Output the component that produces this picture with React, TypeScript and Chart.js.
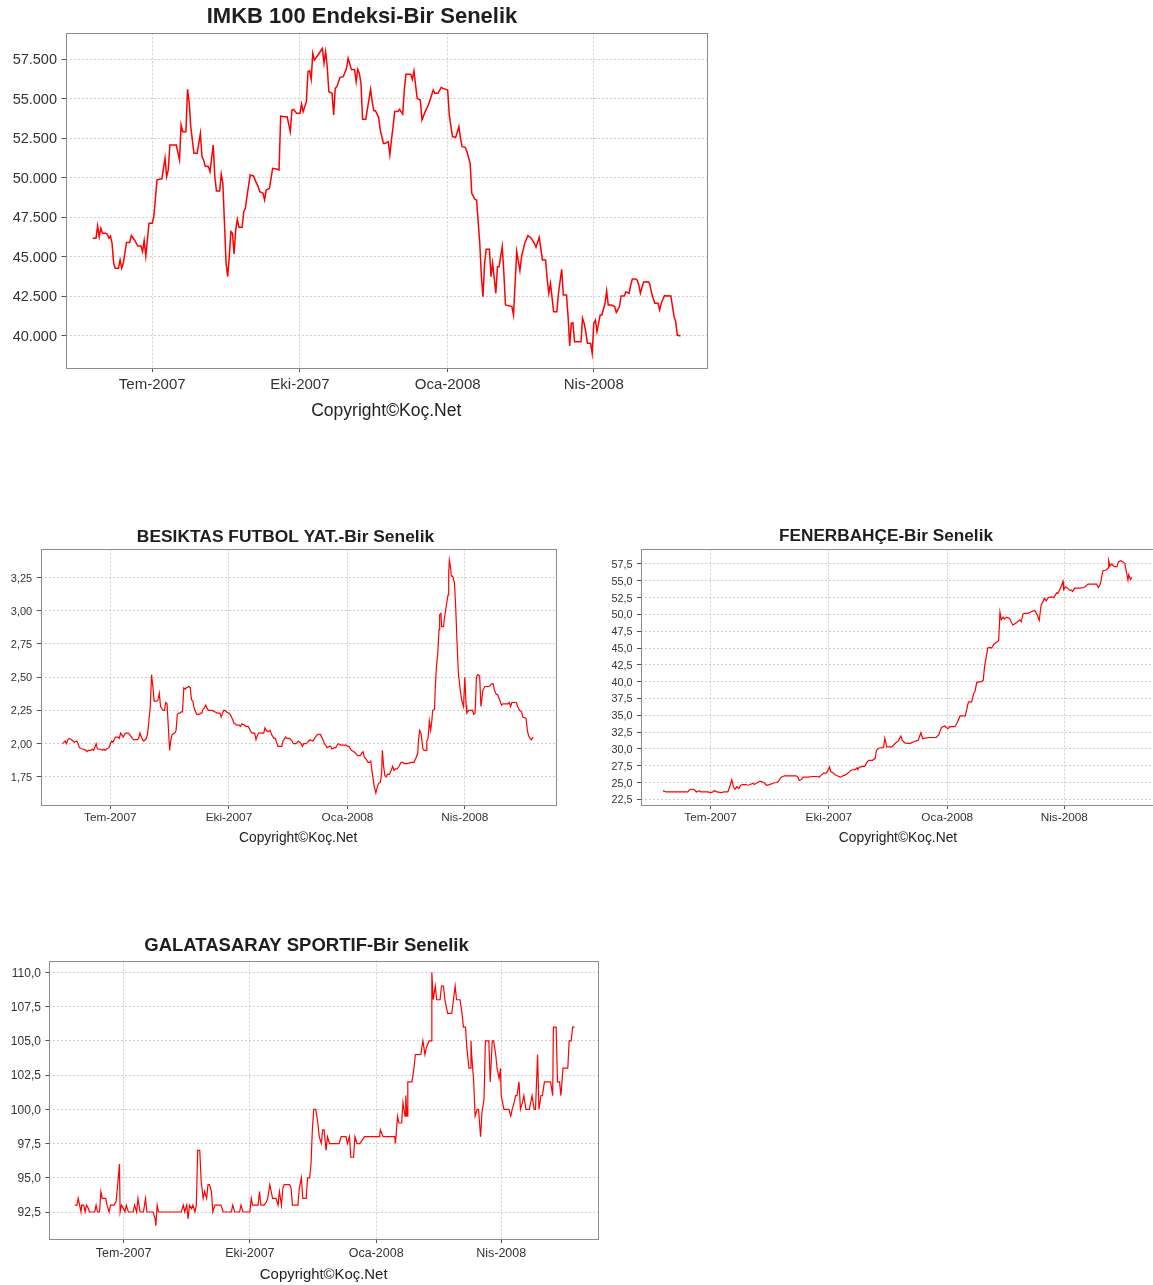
import React, { useEffect, useRef } from "react";
import { Chart, registerables } from "chart.js";

Chart.register(...registerables);

// Day offsets are counted from 1 July 2007 (day 0 = Tem-2007).
const monthTickDays = [0, 92, 184, 275];
const monthTickLabels = ["Tem-2007", "Eki-2007", "Oca-2008", "Nis-2008"];
const dayMin = -54;
const dayMax = 345.5;
const copyrightText = "Copyright©Koç.Net";

// IMKB 100 index, one year
const imkbDays = [
  -37, -35, -34, -33, -32, -31, -29, -28, -27, -26, -25, -24, -23, -21, -20, -19, -18, -16, -14, -13,
  -11, -9, -7, -6, -5, -4, -2, 0, 1, 3, 5, 6, 8, 9, 10, 11, 15, 17, 18, 19,
  21, 22, 23, 24, 26, 28, 30, 31, 32, 33, 35, 36, 38, 39, 40, 42, 43, 44, 45, 46,
  47, 48, 49, 50, 51, 52, 53, 54, 56, 57, 58, 59, 61, 63, 65, 66, 67, 69, 70, 71,
  73, 75, 78, 79, 80, 82, 84, 86, 87, 88, 90, 92, 93, 94, 95, 96, 97, 98, 99, 100,
  101, 104, 106, 107, 108, 109, 110, 112, 113, 114, 115, 117, 119, 121, 122, 123, 124, 126, 127, 128,
  129, 130, 131, 133, 136, 137, 138, 139, 141, 142, 144, 145, 147, 148, 149, 150, 151, 153, 154, 156,
  157, 158, 161, 162, 163, 165, 167, 168, 170, 172, 175, 176, 178, 180, 181, 184, 185, 187, 189, 191,
  192, 193, 195, 196, 198, 199, 201, 202, 204, 205, 206, 207, 208, 210, 211, 212, 214, 215, 216, 218,
  219, 220, 224, 225, 227, 229, 230, 232, 234, 236, 238, 239, 241, 243, 245, 246, 247, 248, 250, 252,
  253, 255, 256, 258, 259, 260, 261, 262, 263, 267, 268, 269, 270, 271, 273, 274, 275, 276, 277, 279,
  280, 282, 283, 284, 286, 288, 289, 291, 292, 294, 295, 297, 298, 299, 301, 302, 303, 304, 306, 309,
  310, 311, 313, 315, 316, 317, 319, 323, 325, 326, 327, 329,
];
const imkbValues = [
  46180, 46180, 46960, 46280, 46810, 46490, 46490, 46450, 46180, 46320, 45860, 44600, 44280, 44280, 44810, 44280, 44600, 45920, 45920, 46350,
  46070, 45690, 45690, 45330, 46030, 45060, 47130, 47130, 47550, 49870, 49930, 49930, 51240, 50080, 50500, 52080, 52080, 51130, 53340, 52920,
  52920, 55600, 54820, 53240, 51550, 51550, 52820, 51340, 51130, 50750, 50710, 50390, 52080, 50080, 49170, 49170, 50240, 49650, 47130, 44600,
  43750, 45020, 46600, 46490, 45190, 46700, 47380, 46870, 46870, 47860, 48070, 48810, 50180, 50120, 49650, 49440, 49130, 49020, 48600, 49230,
  49340, 50600, 50540, 50500, 53910, 53870, 53870, 52920, 54290, 54330, 54080, 54080, 54670, 54190, 54500, 54820, 56720, 56780, 56230, 57880,
  57450, 57880, 58190, 57240, 57980, 57030, 55450, 55350, 53980, 55660, 55770, 56360, 56400, 56930, 57560, 57240, 56860, 56860, 56080, 56860,
  56610, 55980, 53700, 53700, 55600, 54820, 54250, 54250, 53830, 53030, 52180, 52180, 52290, 51450, 52400, 53240, 54190, 54190, 54330, 54040,
  55560, 56550, 56550, 56230, 56760, 55030, 54920, 53660, 54190, 54610, 55560, 55350, 55350, 55730, 55660, 55560, 53980, 52610, 52560, 53240,
  52500, 51970, 51930, 51660, 50920, 49020, 48640, 48600, 45860, 43750, 42490, 44600, 45480, 45480, 43750, 44600, 42700, 44380, 44380, 45650,
  43960, 41960, 41860, 41330, 45330, 44130, 45020, 45860, 46350, 46180, 45860, 45610, 46240, 44810, 44810, 43540, 42700, 43330, 41540, 41540,
  42700, 44220, 42590, 42590, 41220, 39370, 40800, 40840, 39640, 39640, 41120, 40800, 40270, 39540, 39540, 38900, 40800, 41010, 40270, 41330,
  41330, 42070, 42850, 41960, 41960, 41860, 41480, 41860, 42530, 42530, 42800, 42700, 43230, 43600, 43600, 43540, 43230, 42700, 43410, 43430,
  43230, 42700, 42070, 42070, 41640, 42070, 42550, 42530, 41220, 40910, 40060, 40000,
];
const imkbYTicks = [40000, 42500, 45000, 47500, 50000, 52500, 55000, 57500];

// Beşiktaş Futbol Yatırımları
const bjkDays = [
  -37, -35, -34, -33, -32, -30, -29, -28, -26, -25, -24, -22, -21, -19, -18, -17, -15, -14, -13, -11,
  -10, -9, -8, -6, -5, -4, -3, -1, 0, 1, 2, 3, 4, 6, 7, 8, 10, 11, 12, 13,
  14, 15, 17, 18, 19, 21, 22, 23, 25, 26, 27, 28, 29, 30, 31, 32, 33, 34, 35, 36,
  37, 38, 39, 41, 42, 43, 44, 45, 46, 47, 48, 50, 51, 52, 53, 54, 55, 56, 57, 58,
  59, 61, 62, 63, 64, 65, 67, 69, 70, 71, 72, 73, 74, 75, 76, 79, 81, 83, 85, 86,
  87, 88, 89, 90, 92, 93, 95, 96, 97, 98, 100, 101, 102, 104, 105, 106, 107, 109, 110, 112,
  113, 114, 115, 118, 119, 120, 121, 122, 124, 125, 127, 128, 129, 130, 132, 133, 134, 136, 137, 138,
  139, 141, 142, 144, 145, 146, 148, 149, 150, 152, 153, 154, 155, 157, 158, 159, 161, 162, 163, 165,
  166, 167, 168, 170, 171, 172, 174, 175, 176, 177, 179, 180, 181, 183, 184, 185, 187, 189, 190, 191,
  192, 194, 195, 196, 197, 198, 200, 201, 202, 203.5, 204.5, 206, 207, 208, 209.5, 210.5, 211, 212, 213, 214,
  215, 216.5, 217.5, 219, 220, 221, 222.5, 224, 225.5, 227, 228, 229.5, 230.5, 233.5, 235.5, 237, 238.5, 239, 240, 241,
  242.5, 243.5, 245, 245.5, 246.5, 247.5, 248.5, 249.5, 250, 251.5, 252, 253, 254, 255, 255.5, 256.5, 257, 258.5, 259, 260.5,
  262, 262.5, 263, 264, 264.5, 265.5, 267, 268, 269, 270, 271.5, 272.5, 274, 275, 276, 276.5, 278, 280, 281, 282,
  283, 284, 285, 286.5, 287.5, 289, 290.5, 293, 294, 295.5, 297, 298, 299.5, 300.5, 302, 303.5, 304.5, 307, 308.5, 309.5,
  310.5, 311.5, 315, 316, 317.5, 319, 320, 322.5, 323.5, 324.5, 325.5, 326.5, 328,
];
const bjkValues = [
  2.0, 2.02, 2.0, 2.03, 2.04, 2.03, 2.02, 2.01, 2.02, 2.0, 1.97, 1.96, 1.96, 1.95, 1.94, 1.95, 1.95, 1.96, 1.95, 2.0,
  1.96, 1.96, 1.96, 1.95, 1.96, 1.95, 1.96, 1.97, 2.0, 2.02, 2.01, 2.03, 2.05, 2.05, 2.04, 2.08, 2.05, 2.07, 2.08, 2.08,
  2.08, 2.07, 2.04, 2.03, 2.03, 2.03, 2.04, 2.08, 2.03, 2.02, 2.03, 2.04, 2.08, 2.18, 2.28, 2.52, 2.43, 2.32, 2.32, 2.32,
  2.33, 2.38, 2.28, 2.25, 2.25, 2.31, 2.3, 2.13, 1.95, 2.03, 2.07, 2.08, 2.1, 2.22, 2.23, 2.23, 2.24, 2.24, 2.42, 2.41,
  2.42, 2.43, 2.42, 2.33, 2.32, 2.27, 2.22, 2.22, 2.23, 2.23, 2.26, 2.27, 2.29, 2.27, 2.25, 2.25, 2.24, 2.23, 2.23, 2.2,
  2.23, 2.25, 2.25, 2.24, 2.23, 2.22, 2.18, 2.15, 2.15, 2.14, 2.14, 2.13, 2.15, 2.14, 2.13, 2.13, 2.13, 2.09, 2.08, 2.08,
  2.03, 2.06, 2.08, 2.08, 2.08, 2.12, 2.1, 2.09, 2.1, 2.07, 2.04, 2.04, 2.01, 1.98, 1.98, 1.98, 2.02, 2.05, 2.04, 2.04,
  2.04, 2.02, 2.0, 2.0, 2.01, 2.02, 2.0, 1.98, 2.0, 2.0, 2.01, 2.02, 2.03, 2.02, 2.03, 2.05, 2.07, 2.07, 2.07, 2.03,
  2.0, 1.99, 1.97, 1.98, 1.98, 1.96, 1.97, 1.97, 1.99, 2.0, 1.99, 1.99, 1.99, 1.99, 1.98, 1.98, 1.95, 1.94, 1.93, 1.92,
  1.91, 1.91, 1.93, 1.94, 1.9, 1.89, 1.86, 1.86, 1.87, 1.76, 1.69, 1.63, 1.67, 1.7, 1.71, 1.78, 1.95, 1.83, 1.76, 1.75,
  1.77, 1.77, 1.79, 1.83, 1.8, 1.81, 1.81, 1.83, 1.86, 1.86, 1.85, 1.85, 1.85, 1.86, 1.86, 1.89, 1.93, 2.02, 2.1, 2.08,
  1.96, 1.95, 1.95, 2.02, 2.04, 2.17, 2.1, 2.18, 2.25, 2.26, 2.4, 2.58, 2.68, 2.86, 2.97, 2.98, 2.88, 2.88, 2.93, 3.03,
  3.12, 3.29, 3.38, 3.32, 3.26, 3.26, 3.21, 3.01, 2.75, 2.53, 2.4, 2.33, 2.28, 2.5, 2.29, 2.23, 2.25, 2.25, 2.25, 2.22,
  2.23, 2.5, 2.52, 2.51, 2.28, 2.4, 2.43, 2.43, 2.43, 2.45, 2.45, 2.4, 2.37, 2.37, 2.33, 2.29, 2.3, 2.3, 2.3, 2.31,
  2.28, 2.31, 2.31, 2.28, 2.25, 2.24, 2.2, 2.19, 2.1, 2.06, 2.04, 2.03, 2.05,
];
const bjkYTicks = [1.75, 2.0, 2.25, 2.5, 2.75, 3.0, 3.25];

// Fenerbahçe
const fbDays = [
  -37, -34.5, -33, -17.5, -16.5, -15, -13, -11, -8.5, -7.5, -4.5, -2, 0, 2, 3, 5, 8.5, 10.5, 13.5, 15,
  16.5, 18, 19, 20.5, 22, 23.5, 25, 27.5, 29, 31, 33, 34, 36.5, 38.5, 40, 41.5, 43.5, 46, 48.5, 51,
  52.5, 55, 57.5, 61.5, 66.5, 68, 69, 70.5, 72, 75.5, 79.5, 83.5, 84.5, 86, 88, 90, 91, 92.5, 93.5, 95,
  96.5, 98.5, 101, 103, 104.5, 107, 109, 110.5, 112.5, 114, 114.5, 116, 118.5, 120, 121.5, 123, 126, 128, 129, 130.5,
  134.5, 135.5, 137, 141, 143.5, 146, 148, 149, 151, 155, 158.5, 160, 161.5, 163.5, 165, 166.5, 170.5, 175.5, 177.5, 179.5,
  182, 184.5, 186, 190, 192, 194, 198, 200.5, 203, 204.5, 205.5, 207, 210.5, 212, 213, 215.5, 217, 218.5, 220.5, 222.5,
  224, 225, 226, 227.5, 228.5, 230, 232.5, 235, 238, 240.5, 241.5, 243, 247, 249.5, 252, 254, 255.5, 257, 258.5, 259.5,
  261, 262.5, 265, 267, 269, 270, 271.5, 272.5, 274, 274.5, 276, 277.5, 279, 280.5, 281.5, 283, 287, 290.5, 293.5, 296,
  300, 301.5, 303, 305, 307.5, 309, 309.5, 310.5, 312, 314, 316, 317, 319, 320.5, 322, 323, 324.5, 325, 326.5, 327.5,
];
const fbValues = [
  23.8, 23.6, 23.6, 23.6, 23.9, 24.0, 24.0, 23.6, 23.8, 23.6, 23.6, 23.6, 23.5, 23.6, 23.8, 23.6, 23.5, 23.6, 23.6, 24.4,
  25.4, 24.3, 24.0, 24.4, 24.1, 24.6, 24.7, 24.7, 24.6, 24.7, 24.9, 24.7, 25.0, 25.2, 25.1, 25.0, 24.6, 24.7, 24.9, 25.0,
  25.1, 25.8, 26.0, 26.0, 26.0, 25.8, 25.3, 25.4, 25.8, 25.8, 25.9, 25.9, 25.8, 26.1, 26.4, 26.4, 26.7, 27.3, 26.6, 26.5,
  26.2, 26.0, 25.8, 26.0, 26.1, 26.4, 26.8, 26.9, 26.9, 27.2, 27.0, 27.3, 27.4, 27.4, 28.0, 28.3, 28.3, 28.6, 29.8, 30.1,
  30.2, 31.6, 30.3, 30.3, 30.8, 31.2, 31.9, 31.3, 30.9, 30.8, 31.1, 31.2, 31.3, 32.4, 31.5, 31.6, 31.7, 31.7, 32.1, 33.2,
  33.4, 33.0, 33.3, 33.3, 34.0, 34.9, 34.9, 37.0, 37.0, 38.2, 38.5, 39.9, 40.0, 40.2, 42.2, 45.0, 45.1, 45.0, 45.6, 45.9,
  46.1, 50.3, 49.2, 49.6, 49.3, 49.6, 49.4, 48.4, 48.8, 49.2, 48.9, 50.1, 50.2, 50.4, 50.6, 49.9, 49.1, 51.4, 51.9, 52.4,
  52.0, 52.5, 52.6, 52.5, 53.2, 53.1, 53.7, 54.1, 54.9, 53.7, 54.1, 53.9, 53.6, 53.6, 53.4, 53.9, 53.9, 54.0, 54.5, 54.5,
  54.5, 54.0, 54.5, 56.5, 56.6, 56.9, 58.0, 57.2, 57.5, 57.1, 57.1, 57.8, 58.0, 57.8, 57.6, 56.6, 55.1, 55.9, 55.2, 55.5,
];
const fbYTicks = [22.5, 25, 27.5, 30, 32.5, 35, 37.5, 40, 42.5, 45, 47.5, 50, 52.5, 55, 57.5];

// Galatasaray Sportif
const gsDays = [
  -35.5, -34, -33, -32, -31, -30.5, -29, -28, -27, -25.5, -25, -21, -20, -19, -17.5, -16.5, -15.5, -14.5, -13, -12,
  -10.5, -9.5, -7, -5.5, -4.5, -3, -2.5, -1.5, 0, 1, 2, 3.5, 7, 8, 9.5, 10.5, 12, 14.5, 16, 17,
  21.5, 23, 23.5, 24.5, 25.5, 42, 43.5, 44.5, 46, 47, 48, 49.5, 50.5, 52, 53, 54, 55.5, 56.5, 58, 59,
  60.5, 61.5, 62.5, 64, 65, 66.5, 71, 72.5, 78.5, 79.5, 81, 84.5, 85.5, 87, 92, 93, 94, 98, 99, 100,
  102.5, 104, 105, 106.5, 107.5, 108.5, 111, 112.5, 113.5, 115, 116, 117, 121, 122, 123, 127, 128, 129.5, 130.5, 133,
  134, 135.5, 136.5, 137.5, 138.5, 140, 141.5, 142.5, 144, 145, 146, 147.5, 148.5, 150, 157, 158.5, 162, 163, 164.5, 165.5,
  167.5, 168.5, 170, 172, 175.5, 186.5, 187, 189, 197.5, 198, 199.5, 200.5, 202.5, 203.5, 205, 205.5, 206.5, 207, 210, 211.5,
  212.5, 216.5, 218, 219.5, 220.5, 222.5, 224, 224.5, 225.5, 227, 228, 230.5, 231.5, 233, 234, 236, 239, 241.5, 242.5, 245,
  246.5, 247.5, 249, 250, 251.5, 252.5, 253, 253.5, 255, 256, 257.5, 258.5, 260, 261, 262.5, 263.5, 266, 267, 268.5, 269.5,
  271, 272, 273.5, 274.5, 275, 277, 278, 280.5, 282, 283, 284.5, 285.5, 286.5, 288, 289, 290.5, 291.5, 293, 295.5, 296.5,
  297.5, 299, 300, 301.5, 302.5, 304, 305, 306.5, 311, 312.5, 313, 315, 316, 317.5, 318.5, 320, 322, 323.5, 324.5, 326,
  327, 328.5,
];
const gsValues = [
  93.0, 93.0, 93.5, 93.0, 92.5, 93.0, 93.0, 92.5, 93.0, 92.75, 92.5, 92.5, 93.0, 92.5, 92.5, 94.0, 93.5, 93.5, 93.5, 93.0,
  92.5, 93.0, 93.0, 93.25, 94.25, 96.0, 92.5, 93.0, 92.75, 92.5, 93.0, 92.5, 92.5, 93.0, 92.5, 93.5, 92.5, 92.5, 93.5, 92.5,
  92.5, 92.0, 91.5, 93.0, 92.5, 92.5, 93.0, 92.5, 93.0, 92.0, 93.0, 92.75, 93.0, 92.5, 93.0, 97.0, 97.0, 94.75, 93.5, 94.0,
  93.5, 94.5, 94.5, 94.0, 92.5, 93.0, 93.0, 92.5, 92.5, 93.0, 92.5, 92.5, 93.0, 92.5, 92.5, 93.5, 93.0, 93.0, 94.0, 93.0,
  93.0, 93.25, 93.5, 94.5, 94.0, 93.5, 93.5, 93.0, 94.0, 93.0, 94.25, 94.5, 94.5, 94.25, 93.0, 93.0, 94.25, 95.0, 93.5, 93.5,
  95.0, 95.0, 96.0, 98.5, 100.0, 100.0, 99.0, 98.0, 97.5, 98.5, 98.5, 97.0, 98.0, 97.5, 97.5, 98.0, 98.0, 97.5, 98.0, 96.5,
  96.5, 98.0, 97.5, 97.5, 98.0, 98.0, 98.5, 98.0, 98.0, 97.5, 99.5, 99.0, 99.0, 100.5, 99.5, 101.0, 99.5, 102.0, 102.0, 103.0,
  104.0, 104.0, 105.0, 104.0, 104.5, 105.0, 105.0, 110.0, 108.0, 109.0, 108.0, 108.0, 109.0, 109.0, 108.0, 107.0, 107.0, 109.0, 108.0, 108.0,
  107.0, 106.0, 106.0, 104.5, 103.0, 103.0, 105.0, 104.0, 102.0, 99.5, 100.0, 100.0, 98.0, 99.75, 100.75, 105.0, 105.0, 102.0, 105.0, 105.0,
  104.0, 103.0, 102.25, 103.0, 101.0, 100.0, 100.0, 100.0, 99.5, 100.0, 100.5, 101.0, 101.0, 102.0, 100.0, 100.5, 101.0, 100.0, 100.0, 100.5,
  101.0, 100.0, 100.0, 104.0, 100.0, 101.0, 101.0, 102.0, 102.0, 101.0, 106.0, 106.0, 102.0, 102.0, 101.0, 103.0, 103.0, 103.0, 105.0, 105.0,
  106.0, 106.0,
];
const gsYTicks = [92.5, 95, 97.5, 100, 102.5, 105, 107.5, 110];

const FONT = "'Liberation Sans', Arial, Helvetica, sans-serif";

const dotThousands = (v: number) => Math.round(v).toString().replace(/\B(?=(\d{3})+(?!\d))/g, ".");
const commaDecimals = (digits: number) => (v: number) => v.toFixed(digits).replace(".", ",");

type Panel = {
  id: string;
  title: string;
  days: number[];
  values: number[];
  yTicks: number[];
  yMin: number;
  yMax: number;
  format: (v: number) => string;
  box: { left: number; top: number; width: number; height: number };
  area: { left: number; top: number; right: number; bottom: number };
  titleSize: number;
  titleY: number;
  yTickSize: number;
  xTickSize: number;
  xLabelY: number;
  copySize: number;
  copyY: number;
  lineWidth: number;
};

const panels: Panel[] = [
  {
    id: "imkb",
    title: "IMKB 100 Endeksi-Bir Senelik",
    days: imkbDays,
    values: imkbValues,
    yTicks: imkbYTicks,
    yMin: 37976,
    yMax: 59143,
    format: dotThousands,
    box: { left: 0, top: 0, width: 724, height: 425 },
    area: { left: 65.5, top: 33.3, right: 707, bottom: 368 },
    titleSize: 22,
    titleY: 15,
    yTickSize: 14.5,
    xTickSize: 15,
    xLabelY: 383,
    copySize: 17.5,
    copyY: 409,
    lineWidth: 1.5,
  },
  {
    id: "bjk",
    title: "BESIKTAS FUTBOL YAT.-Bir Senelik",
    days: bjkDays,
    values: bjkValues,
    yTicks: bjkYTicks,
    yMin: 1.539,
    yMax: 3.462,
    format: commaDecimals(2),
    box: { left: 0, top: 520, width: 571, height: 330 },
    area: { left: 40.7, top: 549.3, right: 555.7, bottom: 805 },
    titleSize: 17.4,
    titleY: 535,
    yTickSize: 11,
    xTickSize: 11.8,
    xLabelY: 817,
    copySize: 13.8,
    copyY: 837,
    lineWidth: 1.2,
  },
  {
    id: "fb",
    title: "FENERBAHÇE-Bir Senelik",
    days: fbDays,
    values: fbValues,
    yTicks: fbYTicks,
    yMin: 21.66,
    yMax: 59.68,
    format: commaDecimals(1),
    box: { left: 602, top: 520, width: 568, height: 330 },
    area: { left: 641, top: 549.3, right: 1155, bottom: 805 },
    titleSize: 17.2,
    titleY: 535,
    yTickSize: 10.8,
    xTickSize: 11.8,
    xLabelY: 817,
    copySize: 13.8,
    copyY: 837,
    lineWidth: 1.2,
  },
  {
    id: "gs",
    title: "GALATASARAY SPORTIF-Bir Senelik",
    days: gsDays,
    values: gsValues,
    yTicks: gsYTicks,
    yMin: 90.53,
    yMax: 110.85,
    format: commaDecimals(1),
    box: { left: 0, top: 925, width: 613, height: 360 },
    area: { left: 49.4, top: 960.7, right: 598, bottom: 1239 },
    titleSize: 18.5,
    titleY: 944,
    yTickSize: 12,
    xTickSize: 12.5,
    xLabelY: 1252,
    copySize: 14.9,
    copyY: 1273,
    lineWidth: 1.2,
  },
];

// Grey outline around the whole plot area
const plotFrame = {
  id: "plotFrame",
  afterDatasetsDraw(chart: any) {
    const { ctx, chartArea: a } = chart;
    ctx.save();
    ctx.strokeStyle = "#8c8c8c";
    ctx.lineWidth = 1;
    ctx.strokeRect(
      Math.round(a.left) + 0.5,
      Math.round(a.top) + 0.5,
      Math.round(a.right) - Math.round(a.left),
      Math.round(a.bottom) - Math.round(a.top)
    );
    ctx.restore();
  },
};

const TICK_LEN = 4;
const GRID_COLOR = "#cfcfcf";
// canvas "middle" sits a little above the visual centre of caps and digits
const TEXT_DROP = 0.1;

function buildConfig(p: Panel): any {
  const { box, area } = p;
  const titleCenter = p.titleY + TEXT_DROP * p.titleSize;
  const xLabelCenter = p.xLabelY + TEXT_DROP * p.xTickSize;
  const copyCenter = p.copyY + TEXT_DROP * p.copySize;
  const titlePadTop = titleCenter - box.top - 0.6 * p.titleSize;
  const titlePadBottom = area.top - box.top - 1.2 * p.titleSize - titlePadTop;
  const xAxisHeight = box.top + box.height - area.bottom;
  const xTickPad = xLabelCenter - area.bottom - TICK_LEN - 0.6 * p.xTickSize;
  const copyPadBottom = box.top + box.height - copyCenter - 0.6 * p.copySize;
  const yAxisWidth = area.left - box.left;
  const rightGap = box.left + box.width - area.right;

  return {
    type: "line",
    data: {
      datasets: [
        {
          data: p.days.map((d, i) => ({ x: d, y: p.values[i] })),
          borderColor: "#ff0000",
          borderWidth: p.lineWidth,
          pointRadius: 0,
          tension: 0,
          fill: false,
          yAxisID: "y",
        },
      ],
    },
    options: {
      responsive: false,
      animation: false,
      devicePixelRatio: 1,
      layout: { padding: 0 },
      plugins: {
        legend: { display: false },
        tooltip: { enabled: false },
        title: {
          display: true,
          text: p.title,
          color: "#1e1e1e",
          font: { family: FONT, size: p.titleSize, weight: "bold", lineHeight: 1.2 },
          padding: { top: titlePadTop, bottom: titlePadBottom },
        },
      },
      scales: {
        x: {
          type: "linear",
          position: "bottom",
          min: dayMin,
          max: dayMax,
          afterBuildTicks: (s: any) => {
            s.ticks = monthTickDays.map((v) => ({ value: v }));
          },
          afterFit: (s: any) => {
            s.height = xAxisHeight;
          },
          ticks: {
            autoSkip: false,
            maxRotation: 0,
            minRotation: 0,
            padding: xTickPad,
            color: "#333",
            font: { family: FONT, size: p.xTickSize, lineHeight: 1.2 },
            callback: (v: number) => {
              const i = monthTickDays.indexOf(v);
              return i >= 0 ? monthTickLabels[i] : "";
            },
          },
          grid: {
            color: GRID_COLOR,
            lineWidth: 1,
            drawTicks: true,
            tickLength: TICK_LEN,
            tickColor: "#555",
            tickWidth: 1,
          },
          border: { display: false, dash: [2, 2] },
          title: {
            display: true,
            text: copyrightText,
            color: "#222",
            font: { family: FONT, size: p.copySize, lineHeight: 1.2 },
            padding: { top: 0, bottom: copyPadBottom },
          },
        },
        y: {
          type: "linear",
          position: "left",
          min: p.yMin,
          max: p.yMax,
          afterBuildTicks: (s: any) => {
            s.ticks = p.yTicks.map((v) => ({ value: v }));
          },
          afterFit: (s: any) => {
            s.width = yAxisWidth;
          },
          ticks: {
            padding: 4.5,
            labelOffset: 1,
            color: "#333",
            font: { family: FONT, size: p.yTickSize, lineHeight: 1.2 },
            callback: (v: number) => p.format(v),
          },
          grid: {
            color: GRID_COLOR,
            lineWidth: 1,
            drawTicks: true,
            tickLength: TICK_LEN,
            tickColor: "#555",
            tickWidth: 1,
          },
          border: { display: false, dash: [2, 2] },
        },
        // empty strip on the right so the title stays centred on the whole image
        gap: {
          type: "linear",
          position: "right",
          display: true,
          afterFit: (s: any) => {
            s.width = rightGap;
          },
          ticks: { display: false },
          grid: { display: false, drawTicks: false },
          border: { display: false },
        },
      },
    },
    plugins: [plotFrame],
  };
}

function PanelChart({ panel }: { panel: Panel }) {
  const ref = useRef<HTMLCanvasElement | null>(null);
  useEffect(() => {
    if (!ref.current) return;
    const chart = new Chart(ref.current, buildConfig(panel));
    return () => chart.destroy();
  }, [panel]);
  const { box } = panel;
  return (
    <canvas
      ref={ref}
      width={box.width}
      height={box.height}
      style={{
        position: "absolute",
        left: box.left,
        top: box.top,
        width: box.width,
        height: box.height,
      }}
    />
  );
}

export default function App() {
  return (
    <div
      style={{
        position: "absolute",
        left: 0,
        top: 0,
        width: 1153,
        height: 1285,
        overflow: "hidden",
        background: "#ffffff",
      }}
    >
      {panels.map((p) => (
        <PanelChart key={p.id} panel={p} />
      ))}
    </div>
  );
}
